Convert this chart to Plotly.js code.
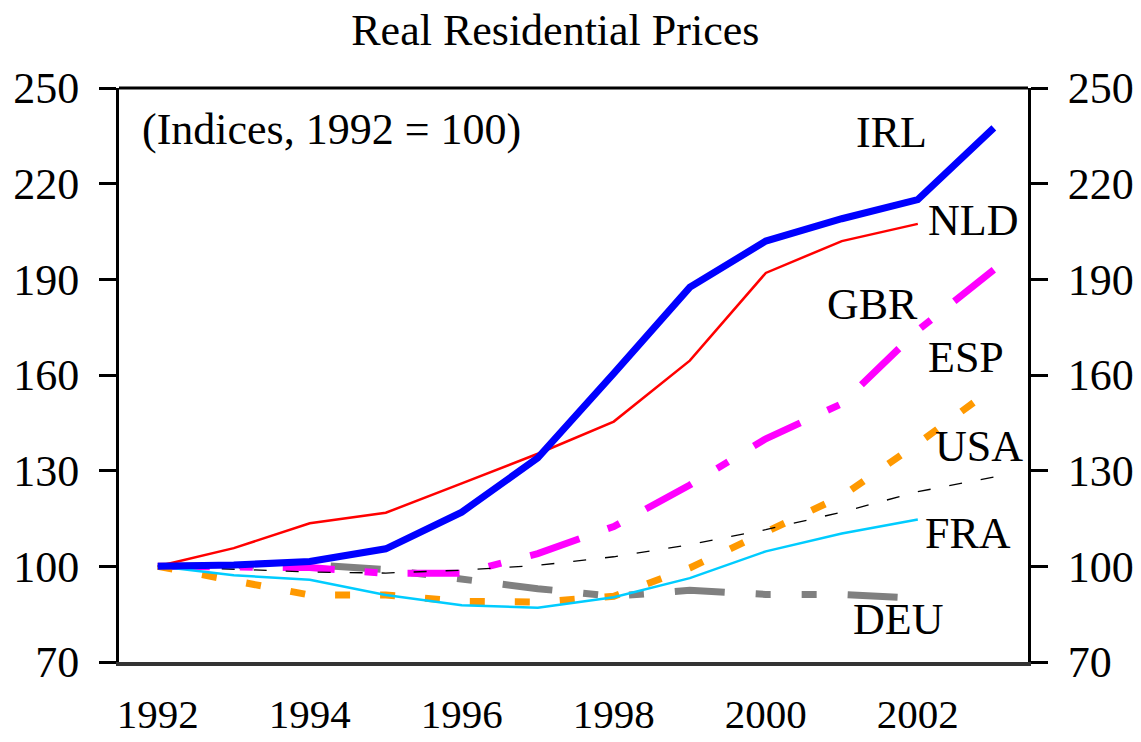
<!DOCTYPE html>
<html>
<head>
<meta charset="utf-8">
<script src="https://cdn.plot.ly/plotly-3.0.1.min.js"></script>
<style>html,body{margin:0;padding:0;background:#fff;}#chart{width:1141px;height:742px;}</style>
</head>
<body>
<div id="chart"></div>
<script>
const years = [1992,1993,1994,1995,1996,1997,1998,1999,2000,2001,2002,2003];
const irl = [100,100.4,101.5,105.5,117,134,160.5,187.5,202,209,215,237.5];
const nld = [100,105.7,113.5,116.8,126,135.3,145.4,164.5,192,202,207.4];
const gbr = [100,99.8,99.6,97.8,97.8,104,112.5,125.5,140,151,174,193];
const esp = [100,95.6,91,91,89,88.8,90.6,99.5,110.5,122,138.5,156];
const usa = [100,99,98.2,97.9,98.8,100.3,103,106.8,111.5,117,123.4,128];
const fra = [100,97.2,95.8,91,87.8,87,90.3,96.3,104.7,110.3,114.7];
const deu = [100,100,100.5,99,96,93,90.6,92.5,91.2,91.2,90];
const labels = ["IRL","NLD","GBR","ESP","USA","FRA","DEU"];

const font = "Liberation Serif, Times New Roman, serif";

function tr(y, color, width, dash) {
  return {x: years.slice(0, y.length), y: y, type: 'scatter', mode: 'lines',
    line: {color: color, width: width, dash: dash || 'solid'}, hoverinfo: 'skip', showlegend: false};
}

const data = [
  tr(deu, '#808080', 7, '50px,31px,15px,31px,15px,31px'),
  tr(gbr, '#FF00FF', 7, '52px,30px,13px,30px'),
  tr(esp, '#FF9900', 7, '15px,30px'),
  tr(usa, '#000000', 1.3, '13px,19px'),
  tr(fra, '#00CCFF', 2.5),
  tr(nld, '#FF0000', 2.5),
  tr(irl, '#0000FF', 7),
  {x: [years[0]], y: [irl[0]], yaxis: 'y2', type: 'scatter', mode: 'lines',
   line: {width: 0}, opacity: 0, hoverinfo: 'skip', showlegend: false}
];

const labelPos = {
  IRL: [2001.66, 236], NLD: [2002.72, 208.4], GBR: [2001.4, 182], ESP: [2002.64, 165.6],
  USA: [2002.8, 137.7], FRA: [2002.66, 110.3], DEU: [2001.74, 83.4]
};

const annotations = labels.map(l => ({
  text: l, x: labelPos[l][0], y: labelPos[l][1], xref: 'x', yref: 'y',
  xanchor: 'center', yanchor: 'middle', showarrow: false,
  font: {family: font, size: 44, color: '#000'}
}));
annotations.push({
  text: '(Indices, 1992 = 100)', x: 1991.76, y: 237, xref: 'x', yref: 'y',
  xanchor: 'left', yanchor: 'middle', showarrow: false,
  font: {family: font, size: 44, color: '#000'}
});

const yCommon = {
  range: [70, 250], tickvals: [70,100,130,160,190,220,250],
  showgrid: false, zeroline: false, showline: true, linecolor: '#000', linewidth: 3,
  ticks: 'outside', ticklen: 17, tickwidth: 3, tickcolor: '#000',
  tickfont: {family: font, size: 44, color: '#000'}, ticklabelstandoff: 11, fixedrange: true
};

const layout = {
  width: 1141, height: 742,
  margin: {l: 119, r: 113, t: 88, b: 80},
  paper_bgcolor: '#fff', plot_bgcolor: '#fff',
  title: {text: 'Real Residential Prices', font: {family: font, size: 44, color: '#000'},
    x: 0.48, xref: 'paper', xanchor: 'center', y: 1 - 30/742, yref: 'container', yanchor: 'middle'},
  xaxis: {
    range: [1991.49, 2003.45], tickvals: [1992,1994,1996,1998,2000,2002],
    showgrid: false, zeroline: false, showline: true, linecolor: '#333', linewidth: 4,
    ticks: '', tickfont: {family: font, size: 41, color: '#000'}, ticklabelstandoff: 13
  },
  yaxis: Object.assign({}, yCommon, {side: 'left'}),
  yaxis2: Object.assign({}, yCommon, {side: 'right', overlaying: 'y'}),
  shapes: [{type: 'line', xref: 'paper', yref: 'paper', x0: 0, x1: 1, y0: 1, y1: 1,
    line: {color: '#000', width: 3}}],
  annotations: annotations
};

Plotly.newPlot('chart', data, layout, {displayModeBar: false, staticPlot: true});
</script>
</body>
</html>
